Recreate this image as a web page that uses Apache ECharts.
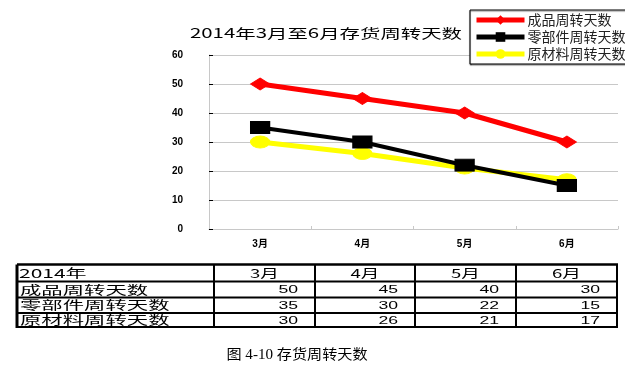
<!DOCTYPE html>
<html><head><meta charset="utf-8">
<script src="https://cdn.jsdelivr.net/npm/echarts@6/dist/echarts.min.js"></script>
<style>html,body{margin:0;padding:0;background:#fff}#c{width:625px;height:372px}</style>
</head><body><div id="c"></div>
<script>
// ---- data ----
const titleText = '2014年3月至6月存货周转天数';
const captionText = '图 4-10 存货周转天数';
const tableCorner = '2014年';
const months = ['3月', '4月', '5月', '6月'];
const seriesNames = ['成品周转天数', '零部件周转天数', '原材料周转天数'];
const finishedDays = [50, 45, 40, 30];
const partsDays = [35, 30, 22, 15];
const materialDays = [30, 26, 21, 17];
const yTicks = [0, 10, 20, 30, 40, 50, 60];

// ---- styles ----
const seriesValues = [finishedDays, partsDays, materialDays];
const colors = ['#ff0000', '#000000', '#ffff00'];
const symbols = ['diamond', 'rect', 'circle'];
const lineWidths = [5, 4, 5];
const CJK = '"Noto Sans CJK SC", sans-serif';
const SANS = '"Liberation Sans", "Noto Sans CJK SC", sans-serif';

// table layout
const colXs = [17, 214, 315, 415, 516, 617];
const rowYs = [264.5, 281.5, 297.5, 313, 327];

const chart = echarts.init(document.getElementById('c'), null, {renderer: 'canvas'});

const graphics = [];
// title
graphics.push({
  type: 'text', x: 326, y: 33, scaleX: 1.57, silent: true,
  style: {text: titleText, font: '13px ' + CJK, fill: '#000', textAlign: 'center', textVerticalAlign: 'middle'}
});
// caption
graphics.push({
  type: 'text', x: 297, y: 355, scaleX: 1.08, silent: true,
  style: {text: captionText, font: '14px "Liberation Serif", "Noto Sans CJK SC", serif', fill: '#000', textAlign: 'center', textVerticalAlign: 'middle'}
});
// table lines
rowYs.forEach((y, i) => {
  graphics.push({type: 'line', silent: true, shape: {x1: colXs[0], y1: y, x2: colXs[colXs.length - 1] + 1, y2: y},
    style: {stroke: '#000', lineWidth: i === 0 ? 2.5 : 2}});
});
colXs.forEach((x, i) => {
  graphics.push({type: 'line', silent: true, shape: {x1: x, y1: rowYs[0], x2: x, y2: rowYs[rowYs.length - 1] + 1},
    style: {stroke: '#000', lineWidth: i === 0 ? 3 : 2}});
});
const rowMid = i => (rowYs[i] + rowYs[i + 1]) / 2 + 0.5;
// header row
graphics.push({type: 'text', x: 19, y: rowMid(0), scaleX: 1.75, silent: true,
  style: {text: tableCorner, font: '12px ' + CJK, fill: '#000', textAlign: 'left', textVerticalAlign: 'middle'}});
months.forEach((m, j) => {
  graphics.push({type: 'text', x: (colXs[j + 1] + colXs[j + 2]) / 2, y: rowMid(0), scaleX: 1.55, silent: true,
    style: {text: m, font: '12px ' + CJK, fill: '#000', textAlign: 'center', textVerticalAlign: 'middle'}});
});
// data rows
seriesNames.forEach((name, i) => {
  graphics.push({type: 'text', x: 20, y: rowMid(i + 1), scaleX: 1.78, silent: true,
    style: {text: name, font: '12px ' + CJK, fill: '#000', textAlign: 'left', textVerticalAlign: 'middle'}});
  seriesValues[i].forEach((v, j) => {
    graphics.push({type: 'text', x: colXs[j + 2] - 17, y: rowMid(i + 1), scaleX: 1.6, silent: true,
      style: {text: String(v), font: '11px ' + SANS, fill: '#000', textAlign: 'right', textVerticalAlign: 'middle'}});
  });
});

const option = {
  backgroundColor: '#fff',
  animation: false,
  graphic: graphics,
  legend: {
    orient: 'vertical', left: 470, top: 10,
    data: seriesNames,
    itemWidth: 48, itemHeight: 12, itemGap: 3,
    padding: [3, 6, 3, 4],
    borderColor: '#000', borderWidth: 1,
    shadowColor: 'rgba(0,0,0,0.5)', shadowOffsetY: 1, shadowBlur: 1,
    backgroundColor: '#fff',
    lineStyle: {width: 5},
    textStyle: {fontFamily: CJK, fontSize: 14, lineHeight: 12, color: '#222', padding: [0, 0, 0, -2]}
  },
  grid: {left: 209, right: 7, top: 55, bottom: 143, outerBoundsMode: 'none'},
  xAxis: {
    type: 'category', data: months, boundaryGap: true,
    axisLine: {show: true, lineStyle: {color: '#c8c8c8', width: 1}},
    axisTick: {show: true, inside: true, length: 3, alignWithLabel: false, lineStyle: {color: '#c8c8c8'}},
    axisLabel: {margin: 10, fontSize: 10, fontWeight: 'bold', color: '#000', fontFamily: SANS},
    splitLine: {show: false}
  },
  yAxis: {
    type: 'value', min: yTicks[0], max: yTicks[yTicks.length - 1], interval: yTicks[1] - yTicks[0],
    axisLine: {show: true, lineStyle: {color: '#c8c8c8', width: 1}},
    axisTick: {show: true, inside: true, length: 4, lineStyle: {color: '#000', width: 1}},
    axisLabel: {margin: 26, fontSize: 10, fontWeight: 'bold', color: '#000', fontFamily: SANS},
    splitLine: {show: true, lineStyle: {color: '#c8c8c8', width: 1}}
  },
  series: seriesNames.map((name, i) => ({
    name: name, type: 'line', data: seriesValues[i],
    symbol: symbols[i], symbolSize: [19, 12],
    lineStyle: {color: colors[i], width: lineWidths[i]},
    itemStyle: {color: colors[i], borderColor: colors[i]},
    z: 3 - i
  }))
};
chart.setOption(option);
</script>
</body></html>
